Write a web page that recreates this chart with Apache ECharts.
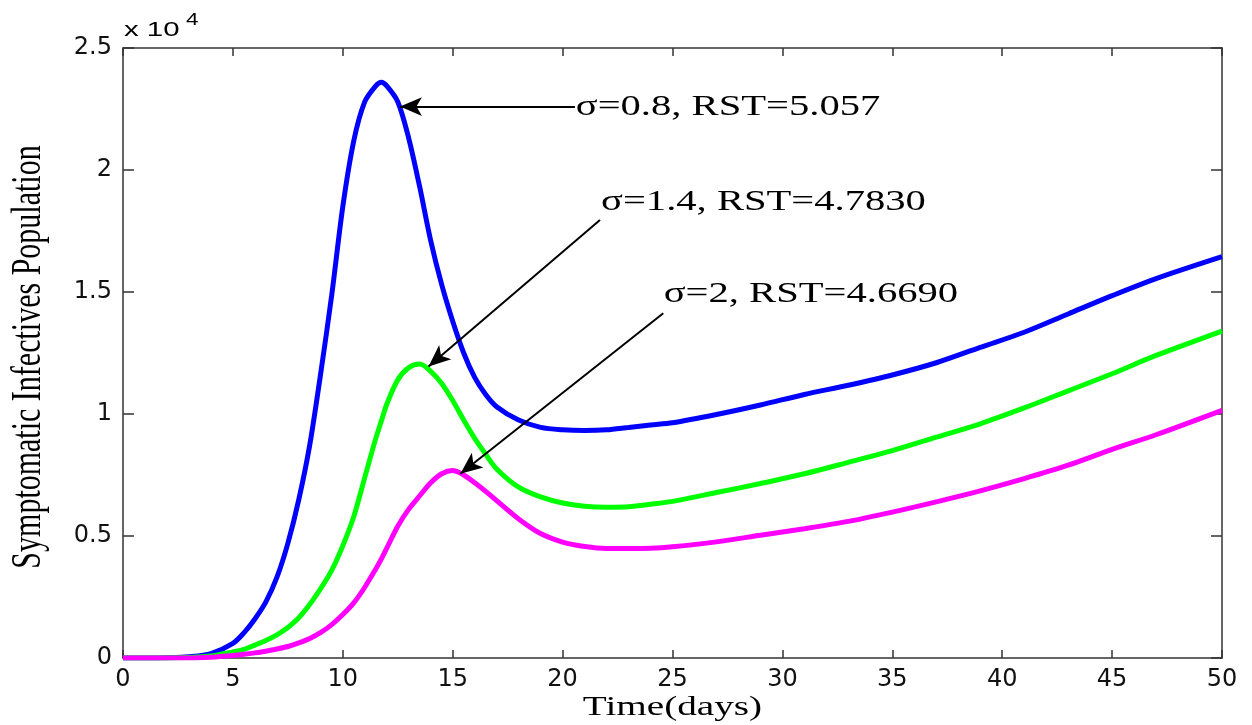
<!DOCTYPE html>
<html style="height: 100%">
<head>
    <meta charset="utf-8">
</head>
<body style="height: 100%; margin: 0; background: #fff">
<div id="container" style="width: 1252px; height: 725px"></div>
<script src="https://cdn.jsdelivr.net/npm/echarts@6/dist/echarts.min.js"></script>
<script type="text/javascript">
    // time grid (days) shared by the three curves
    var days = [0, 1, 2, 3, 4, 5, 5.5, 6, 6.5, 7, 7.5, 8, 8.5, 9, 9.5, 10, 10.5, 11, 11.5, 11.75, 12, 12.5, 13, 13.5, 14,
        14.5, 15, 15.5, 16, 16.5, 17, 18, 19, 20, 21, 22, 23, 24, 25, 27, 29, 31, 33, 35, 37, 39, 41, 43, 45, 47, 50];

    // sigma = 0.8
    var blueVals = [0, 0, 10, 50, 180, 600, 1030, 1600, 2300, 3300, 4700, 6500, 8750, 11700, 14900, 18500, 21200, 22800, 23450, 23600,
        23450, 22800, 21300, 19300, 17100, 15300, 13800, 12500, 11500, 10800, 10300, 9750, 9450, 9350, 9320, 9350, 9450, 9550, 9640,
        9980, 10370, 10800, 11180, 11600, 12100, 12730, 13350, 14100, 14850, 15550, 16450];
    // sigma = 1.4
    var greenVals = [0, 0, 0, 20, 80, 250, 350, 530, 720, 950, 1250, 1650, 2200, 2850, 3600, 4600, 5800, 7400, 9000, 9700,
        10400, 11400, 11900, 12050, 11750, 11250, 10550, 9750, 9000, 8350, 7750, 7000, 6600, 6350, 6220, 6180, 6200, 6300, 6420,
        6780, 7150, 7550, 8020, 8500, 9050, 9600, 10250, 10950, 11650, 12400, 13400];
    // sigma = 2
    var pinkVals = [0, 0, 0, 0, 30, 100, 150, 210, 280, 370, 470, 620, 800, 1050, 1370, 1780, 2260, 2900, 3650, 4050,
        4500, 5400, 6100, 6650, 7180, 7550, 7680, 7500, 7180, 6830, 6450, 5700, 5100, 4750, 4570, 4490, 4490, 4500, 4560,
        4760, 5030, 5300, 5600, 5980, 6400, 6850, 7350, 7900, 8550, 9150, 10150];

    // annotations (data coordinates)
    var labelText = ['σ=0.8, RST=5.057', 'σ=1.4, RST=4.7830', 'σ=2, RST=4.6690'];
    var labelAt = [[20.6, 22550], [21.75, 18670], [24.6, 14920]];
    var arrowFrom = [[20.56, 22600], [21.7, 17950], [24.58, 14130]];
    var arrowTo = [[12.6, 22600], [13.9, 11950], [15.35, 7550]];

    var colors = ['#0000ff', '#00ff00', '#ff00ff'];
    var allVals = [blueVals, greenVals, pinkVals];

    var dom = document.getElementById("container");
    var myChart = echarts.init(dom);

    function pairs(vals) {
        return days.map(function (t, i) { return [t, vals[i]]; });
    }

    var axisLine = {show: true, onZero: false, lineStyle: {color: '#333', width: 1.5}};
    var tickLabel = {fontFamily: 'DejaVu Sans', fontSize: 24, color: '#111'};
    var series = allVals.map(function (vals, k) {
        return {
            type: 'line',
            data: pairs(vals),
            smooth: 0.3,
            showSymbol: false,
            lineStyle: {color: colors[k], width: 5},
            z: 2,
            markLine: {
                silent: true,
                symbol: ['none', 'arrow'],
                symbolSize: [14, 22],
                label: {show: false},
                lineStyle: {color: '#000', width: 2, type: 'solid'},
                z: 5,
                data: [[{coord: arrowFrom[k]}, {coord: arrowTo[k]}]]
            }
        };
    });

    var option = {
        animation: false,
        grid: {left: 123, right: 30, top: 48, bottom: 67},
        xAxis: [{
            type: 'value', min: 0, max: 50, interval: 5,
            axisLine: axisLine,
            axisTick: {inside: true, length: 8, lineStyle: {color: '#333', width: 1.5}},
            axisLabel: Object.assign({margin: 10}, tickLabel),
            splitLine: {show: false}
        }, {
            type: 'value', position: 'top', min: 0, max: 50, interval: 5,
            axisLine: axisLine,
            axisTick: {inside: true, length: 8, lineStyle: {color: '#333', width: 1.5}},
            axisLabel: {show: false},
            splitLine: {show: false}
        }],
        yAxis: [{
            type: 'value', min: 0, max: 25000, interval: 5000,
            axisLine: axisLine,
            axisTick: {inside: true, length: 11, lineStyle: {color: '#333', width: 1.5}},
            axisLabel: Object.assign({
                margin: 11,
                formatter: function (v) { return String(v / 10000); }
            }, tickLabel),
            splitLine: {show: false}
        }, {
            type: 'value', position: 'right', min: 0, max: 25000, interval: 5000,
            axisLine: axisLine,
            axisTick: {inside: true, length: 11, lineStyle: {color: '#333', width: 1.5}},
            axisLabel: {show: false},
            splitLine: {show: false}
        }],
        series: series
    };
    myChart.setOption(option);

    // texts placed from data coordinates, stretched like the original figure
    function px(p) {
        return myChart.convertToPixel({xAxisIndex: 0, yAxisIndex: 0}, p);
    }
    var serif = 'Liberation Serif';
    var graphics = labelText.map(function (txt, i) {
        var p = px(labelAt[i]);
        return {
            type: 'text', x: p[0], y: p[1], scaleX: 1.4, z: 10,
            style: {text: txt, fontFamily: serif, fontSize: 29, fill: '#000', align: 'left', verticalAlign: 'middle'}
        };
    });
    var origin = px([0, 25000]);
    var bottomMid = px([25, 0]);
    var midLeft = px([0, 12500]);
    graphics.push({
        type: 'text', x: bottomMid[0], y: bottomMid[1] + 50, scaleX: 1.4,
        style: {text: 'Time(days)', fontFamily: serif, fontSize: 28, fill: '#000', align: 'center', verticalAlign: 'middle'}
    });
    graphics.push({
        type: 'text', x: 29, y: midLeft[1] + 4, rotation: Math.PI / 2, scaleY: 1.4,
        style: {text: 'Symptomatic Infectives Population', fontFamily: serif, fontSize: 30, fill: '#000',
            align: 'center', verticalAlign: 'middle'}
    });
    graphics.push({
        type: 'text', x: origin[0] + 1, y: origin[1] - 18, scaleX: 1.4,
        style: {text: 'x 10', fontFamily: 'Liberation Sans', fontSize: 21, fill: '#000',
            align: 'left', verticalAlign: 'middle'}
    });
    graphics.push({
        type: 'text', x: origin[0] + 63, y: origin[1] - 27, scaleX: 1.4,
        style: {text: '4', fontFamily: 'Liberation Sans', fontSize: 16, fill: '#000',
            align: 'left', verticalAlign: 'middle'}
    });
    myChart.setOption({graphic: graphics});
</script>
</body>
</html>
